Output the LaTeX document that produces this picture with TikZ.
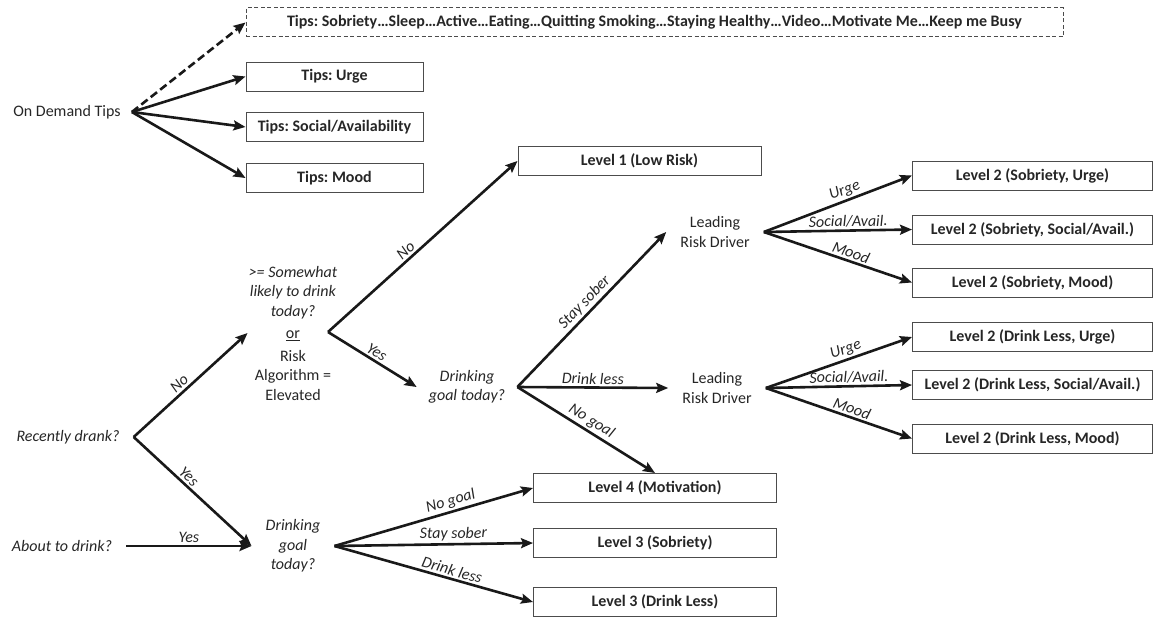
\documentclass[tikz,border=0pt]{standalone}
\usepackage{fontspec}
\setmainfont{Carlito}
\usepackage{tikz}
\usetikzlibrary{positioning, arrows.meta}
\frenchspacing

\begin{document}
\begin{tikzpicture}[
            x=1pt, y=-1pt,
            every node/.style={font=\fontsize{16}{19.5}\selectfont, text=black!85},
            outcome/.style={draw=black!70, line width=1pt, rectangle, inner sep=0pt, minimum height=29pt, minimum width=243pt, font=\fontsize{16}{19.5}\selectfont\bfseries},
            leveltwo/.style={outcome, minimum width=240pt},
            tipbox/.style={outcome, minimum width=177pt},
            tipdash/.style={outcome, dash pattern=on 4pt off 2.5pt, minimum width=817pt},
            question/.style={align=center, inner xsep=14pt, font=\fontsize{16}{19.5}\selectfont\itshape},
            driver/.style={align=center, inner xsep=14pt},
            edge/.style={line width=2.6pt, draw=black!90, -{Stealth[length=12pt, width=10pt, inset=2pt]}},
            edgelabel/.style={midway, above, sloped, inner sep=2pt, font=\fontsize{16}{18}\selectfont\itshape}
        ]
        \useasboundingbox (0,0) rectangle (1155,618);

        % Tipps
        \node[driver, inner xsep=11pt] (ondemand) at (67,112) {On Demand Tips};
        \node[tipdash] (tipall) at (654.5,22.5) {Tips: Sobriety…Sleep…Active…Eating…Quitting Smoking…Staying Healthy…Video…Motivate Me…Keep me Busy};
        \node[tipbox] (tipurge) at (334.5,76.5) {Tips: Urge};
        \node[tipbox] (tipsocial) at (334.5,127) {Tips: Social/Availability};
        \node[tipbox] (tipmood) at (334.5,178) {Tips: Mood};

        % Fragen
        \node[question] (recent) at (68,437) {Recently drank?};
        \node[question] (about) at (62,546) {About to drink?};
        \node[driver, inner xsep=1pt] (risk) at (293,333) {\textit{>= Somewhat}\\ \textit{likely to drink}\\ \textit{today?}\\[3pt] \underline{or}\\[3pt] Risk\\ Algorithm =\\ Elevated};
        \coordinate (riskfork) at (328,332);
        \node[question, inner xsep=12pt] (goalA) at (467,387) {Drinking\\ goal today?};
        \node[question] (goalB) at (293,546) {Drinking\\ goal\\ today?};
        \node[driver] (driverA) at (715,232) {Leading\\ Risk Driver};
        \node[driver] (driverB) at (717,388) {Leading\\ Risk Driver};

        % Ergebnisse
        \node[outcome] (low) at (639.5,161) {Level 1 (Low Risk)};
        \node[outcome] (motiv) at (655,488) {Level 4 (Motivation)};
        \node[outcome] (sober) at (655,543) {Level 3 (Sobriety)};
        \node[outcome] (less) at (655,602) {Level 3 (Drink Less)};
        \node[leveltwo] (sobUrge) at (1032.5,175.5) {Level 2 (Sobriety, Urge)};
        \node[leveltwo] (sobSocial) at (1032.5,229.5) {Level 2 (Sobriety, Social/Avail.)};
        \node[leveltwo] (sobMood) at (1032.5,282.5) {Level 2 (Sobriety, Mood)};
        \node[leveltwo] (lessUrge) at (1032.5,337) {Level 2 (Drink Less, Urge)};
        \node[leveltwo] (lessSocial) at (1032.5,385) {Level 2 (Drink Less, Social/Avail.)};
        \node[leveltwo] (lessMood) at (1032.5,438.5) {Level 2 (Drink Less, Mood)};

        % Pfeile
        \draw[edge, dash pattern=on 8pt off 4pt] (ondemand.east) -- (tipall.west);
        \draw[edge] (ondemand.east) -- (tipurge.west);
        \draw[edge] (ondemand.east) -- (tipsocial.west);
        \draw[edge] (ondemand.east) -- (tipmood.west);

        \draw[edge] (recent.east) -- node[edgelabel, pos=0.45] {No} (risk.west);
        \draw[edge] (recent.east) -- node[edgelabel, pos=0.42] {Yes} (goalB.west);
        \draw[edge] (about.east) -- node[edgelabel] {Yes} (goalB.west);

        \draw[edge] (riskfork) -- node[edgelabel, pos=0.44] {No} (low.west);
        \draw[edge] (riskfork) -- node[edgelabel] {Yes} (goalA.west);

        \draw[edge] (goalA.east) -- node[edgelabel] {Stay sober} (driverA.west);
        \draw[edge] (goalA.east) -- node[edgelabel] {Drink less} (driverB.west);
        \draw[edge] (goalA.east) -- node[edgelabel] {No goal} (motiv.north);

        \draw[edge] (driverA.east) -- node[edgelabel, pos=0.57] {Urge} (sobUrge.west);
        \draw[edge] (driverA.east) -- node[edgelabel, pos=0.57] {Social/Avail.} (sobSocial.west);
        \draw[edge] (driverA.east) -- node[edgelabel, pos=0.57] {Mood} (sobMood.west);
        \draw[edge] (driverB.east) -- node[edgelabel, pos=0.57] {Urge} (lessUrge.west);
        \draw[edge] (driverB.east) -- node[edgelabel, pos=0.57] {Social/Avail.} (lessSocial.west);
        \draw[edge] (driverB.east) -- node[edgelabel, pos=0.57] {Mood} (lessMood.west);

        \draw[edge] (goalB.east) -- node[edgelabel, pos=0.6] {No goal} (motiv.west);
        \draw[edge] (goalB.east) -- node[edgelabel, pos=0.6] {Stay sober} (sober.west);
        \draw[edge] (goalB.east) -- node[edgelabel, pos=0.58] {Drink less} (less.west);

    \end{tikzpicture}
\end{document}
